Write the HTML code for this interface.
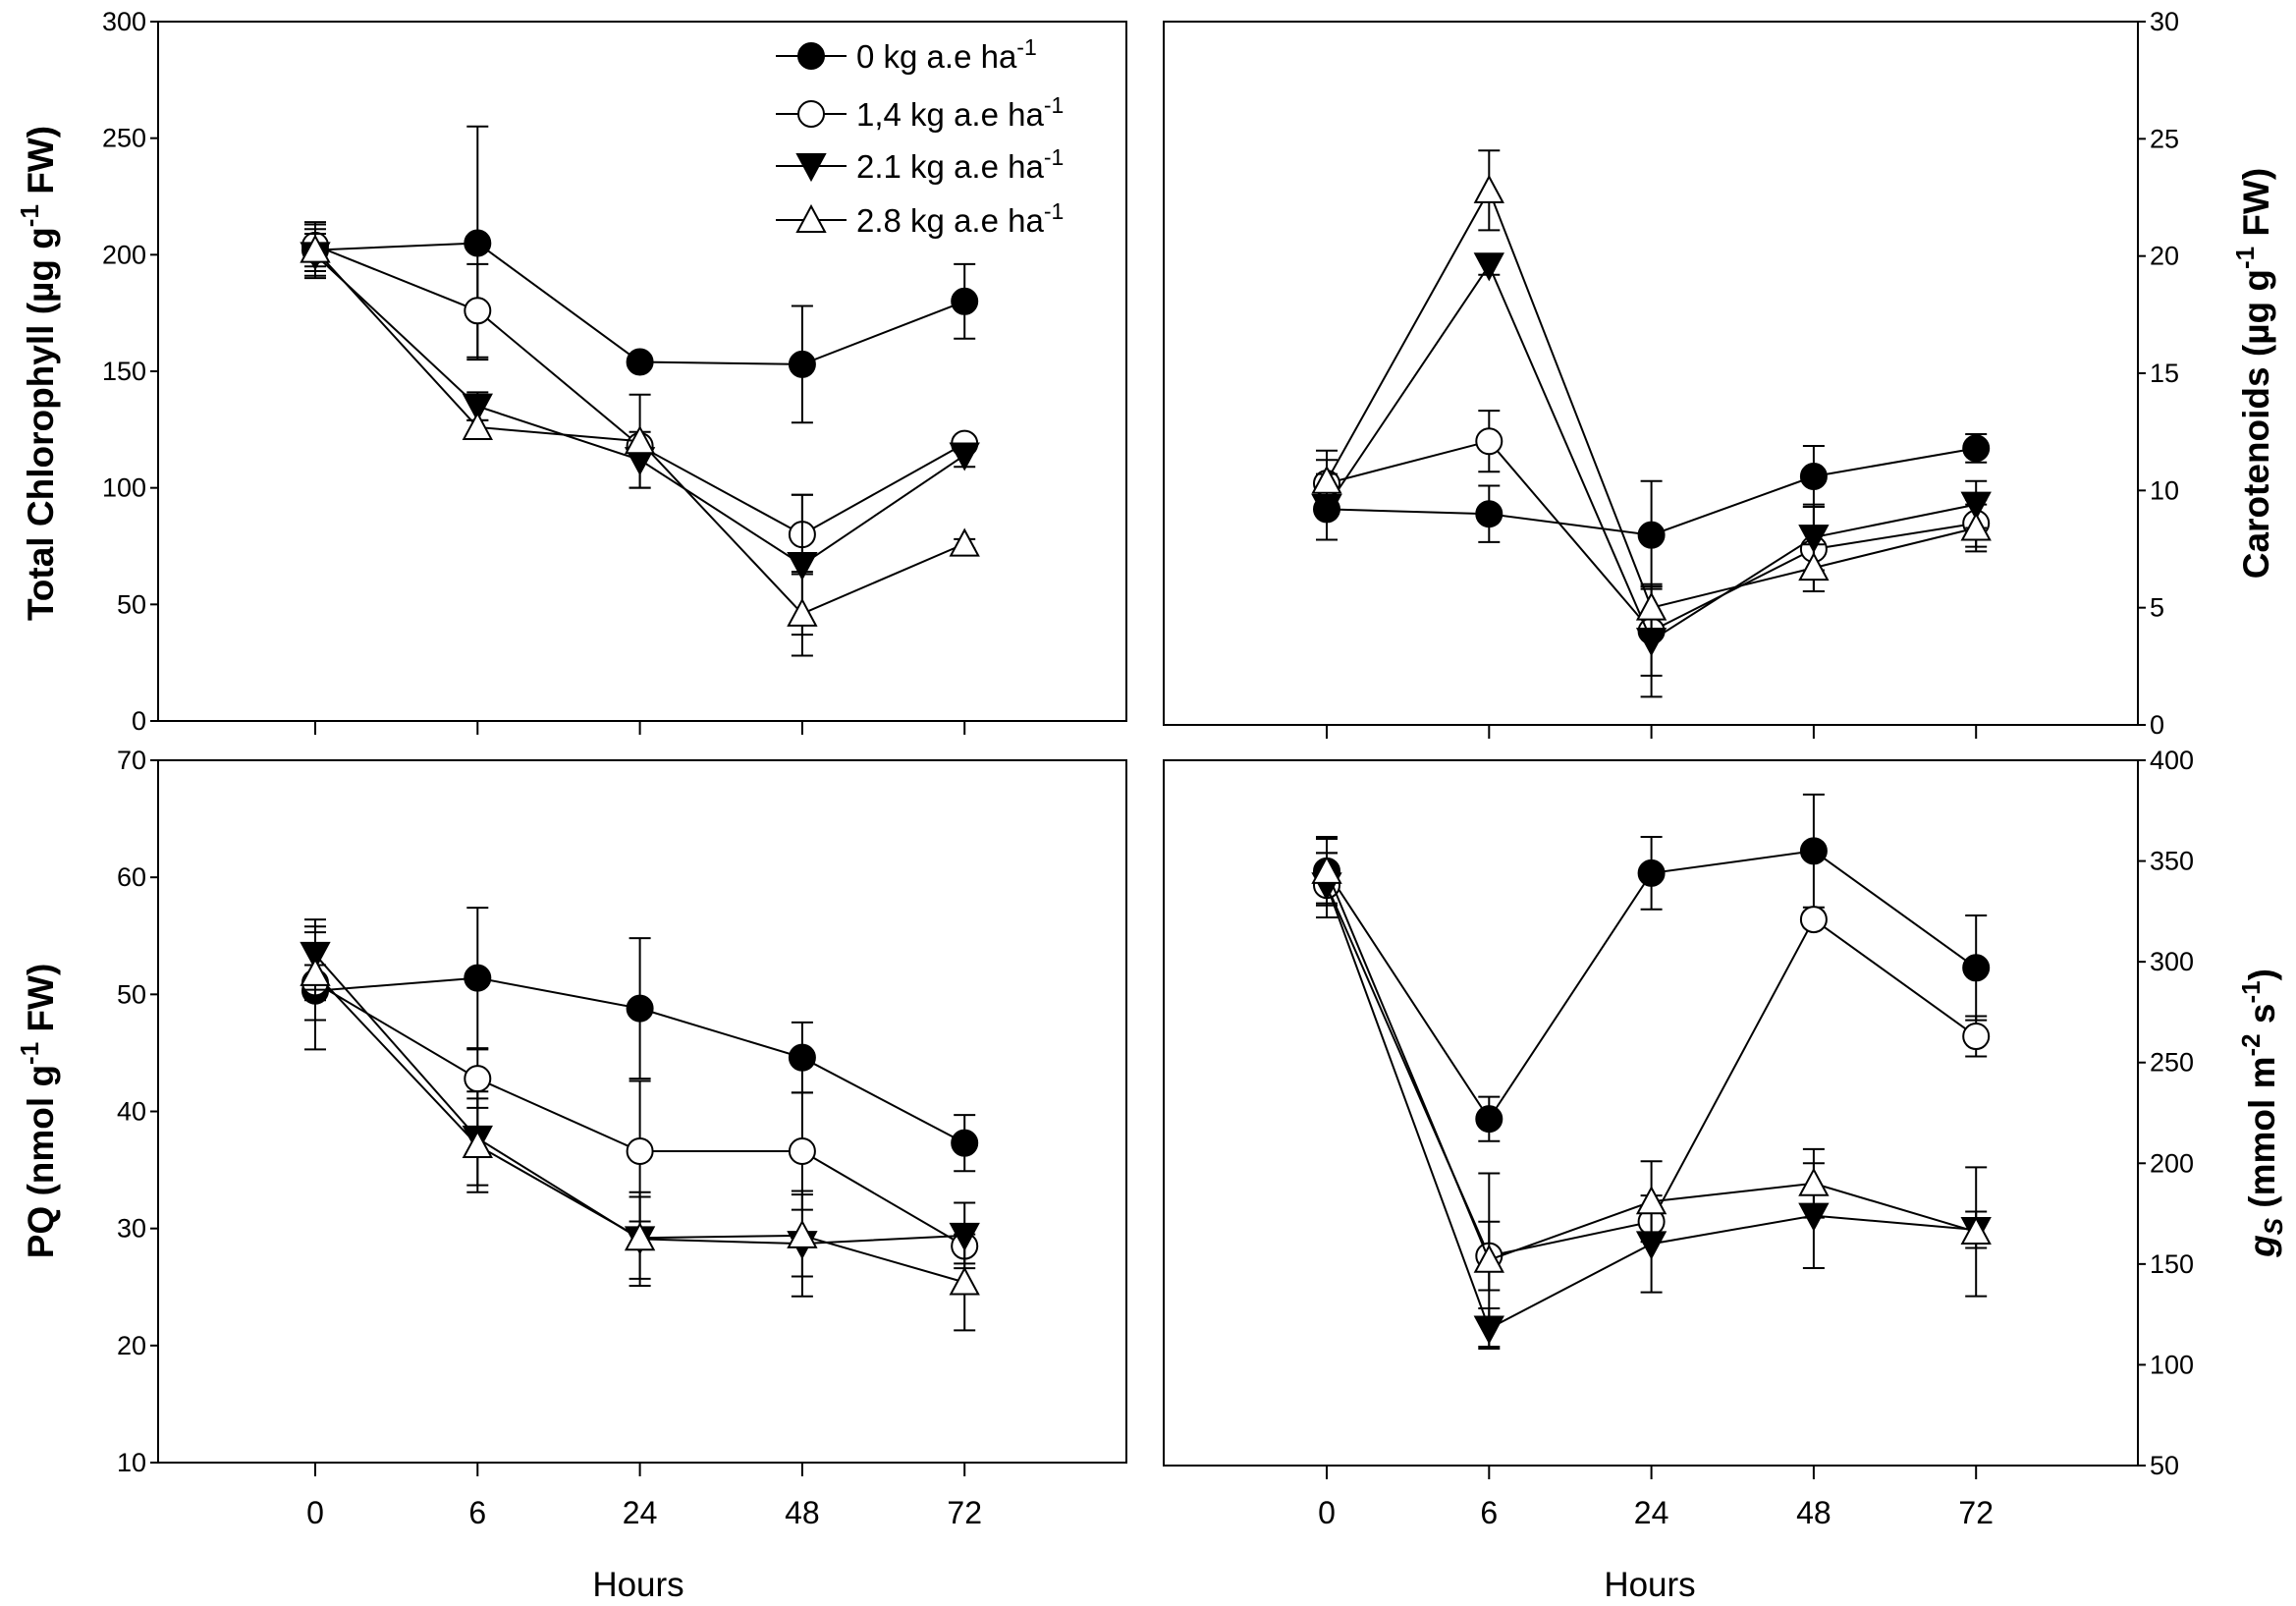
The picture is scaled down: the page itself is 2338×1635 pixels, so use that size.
<!DOCTYPE html>
<html><head><meta charset="utf-8"><style>
html,body{margin:0;padding:0;background:#fff}
svg{display:block}
text{font-family:"Liberation Sans Narrow","Liberation Sans",sans-serif;fill:#000}
.t{font-size:27px}
.ttl{font-family:"Liberation Sans",sans-serif;font-weight:bold;font-size:37px}
</style></head><body>
<svg id="fig" width="2338" height="1635" viewBox="0 0 2338 1635" xmlns="http://www.w3.org/2000/svg"></svg>
<script>
const categories = ["0","6","24","48","72"];
const seriesNames = ["0 kg a.e ha","1,4 kg a.e ha","2.1 kg a.e ha","2.8 kg a.e ha"];
// Total chlorophyll
const chl0 = [202,205,154,153,180], chl0e=[9,50,3,25,16];
const chl1 = [204,176,118,80,119], chl1e=[9,20,3,17,3];
const chl2 = [200,135,112,67,114], chl2e=[9,6,12,30,5];
const chl3 = [202,126,120,46,76], chl3e=[12,3,20,18,2];
// Carotenoids
const car0 = [9.2,9.0,8.1,10.6,11.8], car0e=[1.3,1.2,2.3,1.3,0.6];
const car1 = [10.3,12.1,4.0,7.5,8.6], car1e=[1.0,1.3,1.9,1.8,1.0];
const car2 = [9.3,19.6,3.6,8.0,9.4], car2e=[1.4,0.4,2.4,1.4,1.0];
const car3 = [10.4,22.8,5.0,6.7,8.4], car3e=[1.3,1.7,0.9,1.0,1.0];
// PQ
const pq0 = [50.3,51.4,48.8,44.6,37.3], pq0e=[5,6,6,3,2.4];
const pq1 = [51.0,42.8,36.6,36.6,28.5], pq1e=[1.5,2.5,6,5,1.5];
const pq2 = [53.4,37.7,29.1,28.7,29.4], pq2e=[3,4,4,4.5,2.8];
const pq3 = [51.8,37.1,29.2,29.4,25.4], pq3e=[4,4,3.5,3.5,4.1];
// gs
const gs0 = [345,222,344,355,297], gs0e=[17,11,18,28,26];
const gs1 = [338,154,171,321,263], gs1e=[16,17,4,4,10];
const gs2 = [338,118,160,174,167], gs2e=[16,10,24,26,9];
const gs3 = [345,152,181,190,166], gs3e=[16,43,20,17,32];
const chlTicks=[0,50,100,150,200,250,300], carTicks=[0,5,10,15,20,25,30];
const pqTicks=[10,20,30,40,50,60,70], gsTicks=[50,100,150,200,250,300,350,400];

const NS="http://www.w3.org/2000/svg", svg=document.getElementById('fig');
function mk(tag,attrs,parent){const e=document.createElementNS(NS,tag);for(const k in attrs)e.setAttribute(k,attrs[k]);(parent||svg).appendChild(e);return e;}
const markers=['fc','oc','ft','ot'];
function marker(g,type,x,y){
  let e;
  if(type==='fc'||type==='oc'){e=mk('circle',{cx:x,cy:y,r:13,fill:type==='fc'?'#000':'#fff',stroke:'#000','stroke-width':2},g);}
  else if(type==='ft'){e=mk('polygon',{points:`${x-14},${y-12} ${x+14},${y-12} ${x},${y+14}`,fill:'#000',stroke:'#000','stroke-width':2},g);}
  else {e=mk('polygon',{points:`${x-14},${y+12} ${x+14},${y+12} ${x},${y-14}`,fill:'#fff',stroke:'#000','stroke-width':2},g);}
  return e;
}
function panel(name,L,R,T,B,ymin,ymax,ticks,series,errs,side,showX,x0){
  const g=mk('g',{});
  
  
  const xs=i=>x0+165.3*i;
  const ys=v=>B-(v-ymin)/(ymax-ymin)*(B-T);
  const box=mk('rect',{x:L,y:T,width:R-L,height:B-T,fill:'none',stroke:'#000','stroke-width':2},g);
  
  
  ticks.forEach(v=>{
    const y=ys(v);
    if(side==='L'){mk('line',{x1:L-8,x2:L,y1:y,y2:y,stroke:'#000','stroke-width':2},g);
      const t=mk('text',{x:L-12,y:y+9,'text-anchor':'end',class:'t'},g);t.textContent=v;
      
      }
    else {mk('line',{x1:R,x2:R+8,y1:y,y2:y,stroke:'#000','stroke-width':2},g);
      const t=mk('text',{x:R+12,y:y+9,'text-anchor':'start',class:'t'},g);t.textContent=v;
      
      }
  });
  categories.forEach((c,i)=>{
    mk('line',{x1:xs(i),x2:xs(i),y1:B,y2:B+14,stroke:'#000','stroke-width':2},g);
    if(showX){const t=mk('text',{x:xs(i),y:1551,'text-anchor':'middle',style:'font-size:32px'},g);t.textContent=c;
      
      }
  });
  series.forEach((s,k)=>{
    const sg=mk('g',{},g);
    
    
    mk('polyline',{points:s.map((v,i)=>xs(i)+','+ys(v)).join(' '),fill:'none',stroke:'#000','stroke-width':2},sg);
    s.forEach((v,i)=>{
      const e=errs[k][i],x=xs(i);
      mk('line',{x1:x,x2:x,y1:ys(v-e),y2:ys(v+e),stroke:'#000','stroke-width':2},sg);
      mk('line',{x1:x-11,x2:x+11,y1:ys(v-e),y2:ys(v-e),stroke:'#000','stroke-width':2},sg);
      mk('line',{x1:x-11,x2:x+11,y1:ys(v+e),y2:ys(v+e),stroke:'#000','stroke-width':2},sg);
    });
    s.forEach((v,i)=>{const m=marker(sg,markers[k],xs(i),ys(v));
      
      });
  });
  return g;
}
panel('chlorophyll-panel',161,1147,22,734,0,300,chlTicks,[chl0,chl1,chl2,chl3],[chl0e,chl1e,chl2e,chl3e],'L',false,321);
panel('carotenoids-panel',1185,2177,22,738,0,30,carTicks,[car0,car1,car2,car3],[car0e,car1e,car2e,car3e],'R',false,1351);
panel('pq-panel',161,1147,774,1489,10,70,pqTicks,[pq0,pq1,pq2,pq3],[pq0e,pq1e,pq2e,pq3e],'L',true,321);
panel('gs-panel',1185,2177,774,1492,50,400,gsTicks,[gs0,gs1,gs2,gs3],[gs0e,gs1e,gs2e,gs3e],'R',true,1351);

// legend
const lg=mk('g',{});


[57,116,169,224].forEach((y,k)=>{
  const eg=mk('g',{},lg);
  
  
  mk('line',{x1:790,x2:862,y1:y,y2:y,stroke:'#000','stroke-width':2},eg);
  marker(eg,markers[k],826,y);
  const t=mk('text',{x:872,y:y+12,style:'font-size:33px'},eg);
  t.innerHTML=seriesNames[k]+'<tspan dy="-13" style="font-size:23px">-1</tspan>';
});

function ytitle(name,x,y,html){
  const t=mk('text',{x:0,y:0,class:'ttl','text-anchor':'middle',transform:`translate(${x},${y}) rotate(-90)`});
  t.innerHTML=html;
  
  
}
ytitle('chlorophyll-y-title',54,380,'Total Chlorophyll (µg g<tspan dy="-15" style="font-size:26px">-1</tspan><tspan dy="15"> FW)</tspan>');
ytitle('carotenoids-y-title',2310,380,'Carotenoids (µg g<tspan dy="-15" style="font-size:26px">-1</tspan><tspan dy="15"> FW)</tspan>');
ytitle('pq-y-title',54,1131,'PQ (nmol g<tspan dy="-15" style="font-size:26px">-1</tspan><tspan dy="15"> FW)</tspan>');
ytitle('gs-y-title',2316,1133,'<tspan font-style="italic">g</tspan><tspan font-style="italic" dy="8" style="font-size:26px">S</tspan><tspan dy="-8"> (mmol m</tspan><tspan dy="-15" style="font-size:26px">-2</tspan><tspan dy="15"> s</tspan><tspan dy="-15" style="font-size:26px">-1</tspan><tspan dy="15">)</tspan>');
[[650,'hours-label-left'],[1680,'hours-label-right']].forEach(([x,n])=>{
  const t=mk('text',{x:x,y:1625,'text-anchor':'middle',style:'font-size:35px'});t.textContent='Hours';
  
  
});
</script>
</body></html>
